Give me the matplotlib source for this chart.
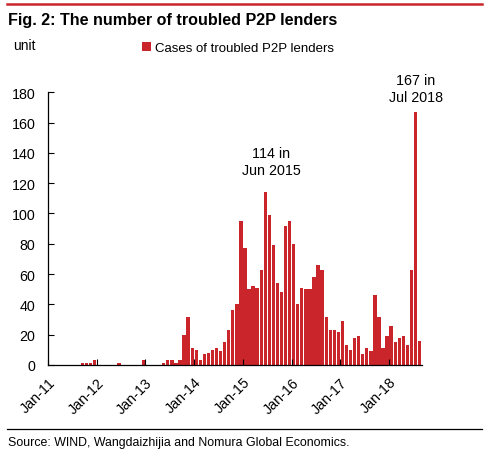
import numpy as np
import pandas as pd
import matplotlib
matplotlib.use("Agg")
import matplotlib.pyplot as plt
from matplotlib.lines import Line2D

plt.rcParams["font.family"] = ["Liberation Sans", "DejaVu Sans"]

RED = "#C9252B"

# monthly cases of troubled P2P lenders, Jan 2011 - Aug 2018
months = pd.date_range("2011-01-01", "2018-08-01", freq="MS")
cases = [0, 0, 0, 0, 0, 0, 0, 0, 1, 1, 1, 3,
         0, 0, 0, 0, 0, 1, 0, 0, 0, 0, 0, 3,
         0, 0, 0, 0, 1, 3, 3, 1, 3, 20, 32, 11,
         10, 3, 7, 8, 10, 11, 9, 15, 23, 36, 40, 95,
         77, 50, 52, 51, 63, 114, 99, 79, 54, 48, 92, 95,
         80, 40, 51, 50, 50, 58, 66, 63, 32, 23, 23, 22,
         29, 13, 10, 18, 19, 7, 11, 9, 46, 32, 11, 19,
         26, 15, 18, 19, 13, 63, 167, 16]
tick_labels = ["Jan-11", "Jan-12", "Jan-13", "Jan-14", "Jan-15", "Jan-16", "Jan-17", "Jan-18"]
# label text, month, (x shift in months, gap above bar)
notes = [("114 in\nJun 2015", "2015-06", 1.4, 10), ("167 in\nJul 2018", "2018-07", 0.05, 5)]

fig = plt.figure(figsize=(4.89, 4.56), dpi=100)
ax = fig.add_axes([0.0982, 0.1974, 0.764, 0.598])

x = np.arange(len(months))
ax.bar(x, cases, width=0.82, color=RED, label="Cases of troubled P2P lenders")
ax.set_xlim(-0.5, len(months) - 0.5)
ax.set_ylim(0, 180)
ax.set_yticks(range(0, 181, 20))

jan_idx = [i for i, m in enumerate(months) if m.month == 1]
ax.set_xticks([i - 0.5 for i in jan_idx])
ax.set_xticklabels(tick_labels, rotation=45, ha="right", rotation_mode="anchor")
ax.tick_params(axis="both", direction="in", length=4, width=0.8, labelsize=10.3, colors="black")
ax.tick_params(axis="x", pad=7)
ax.tick_params(axis="y", pad=9)
for s in ["top", "right"]:
    ax.spines[s].set_visible(False)
for s in ["left", "bottom"]:
    ax.spines[s].set_linewidth(0.9)

for txt, when, dx, gap in notes:
    i = list(months.strftime("%Y-%m")).index(when)
    ax.text(i + dx, cases[i] + gap, txt, ha="center", va="bottom",
            fontsize=10.3, linespacing=1.3)

fig.legend(loc="center", bbox_to_anchor=(0.487, 0.8925), frameon=False, fontsize=9.5,
           handlelength=0.7, handleheight=0.7, handletextpad=0.3)

fig.text(0.027, 0.899, "unit", fontsize=10, va="center")
fig.text(0.016, 0.955, "Fig. 2: The number of troubled P2P lenders", fontsize=11.6,
         fontweight="bold", va="center")
fig.text(0.016, 0.028, "Source: WIND, Wangdaizhijia and Nomura Global Economics.",
         fontsize=8.9, va="center")
fig.add_artist(Line2D([0.014, 0.986], [0.989, 0.989], color=RED, lw=1.8))
fig.add_artist(Line2D([0.014, 0.986], [0.057, 0.057], color="black", lw=0.9))

fig.savefig("out.png", dpi=100)
